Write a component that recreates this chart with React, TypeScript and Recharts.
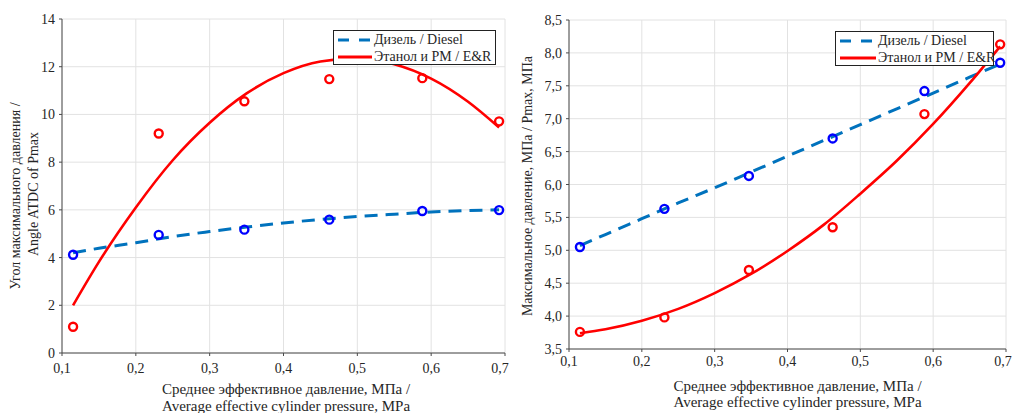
import React from "react";
import { CartesianGrid, ComposedChart, Line, Scatter, XAxis, YAxis } from "recharts";

// measured points (mean effective pressure, MPa)
const loadPoints = [0.115, 0.231, 0.347, 0.462, 0.588, 0.692];
const angleDiesel = [4.12, 4.95, 5.17, 5.59, 5.95, 5.99];
const angleEthanol = [1.1, 9.2, 10.55, 11.48, 11.52, 9.71];
const pmaxDiesel = [5.05, 5.63, 6.13, 6.7, 7.42, 7.85];
const pmaxEthanol = [3.76, 3.98, 4.7, 5.35, 7.07, 8.13];

// trend lines
const trendPoints = [0.115, 0.15, 0.2, 0.25, 0.3, 0.35, 0.4, 0.45, 0.5, 0.55, 0.6, 0.65, 0.692];
const angleDieselTrend = [4.2, 4.39, 4.62, 4.88, 5.09, 5.28, 5.45, 5.6, 5.72, 5.82, 5.91, 5.97, 6.0];
const angleEthanolTrend = [2.0, 3.82, 6.1, 8.08, 9.65, 10.88, 11.73, 12.22, 12.35, 12.1, 11.5, 10.53, 9.45];
const pmaxDieselTrend = [5.07, 5.24, 5.48, 5.72, 5.95, 6.19, 6.43, 6.67, 6.91, 7.15, 7.39, 7.63, 7.83];
const pmaxEthanolTrend = [3.74, 3.8, 3.93, 4.11, 4.35, 4.64, 4.99, 5.39, 5.86, 6.36, 6.92, 7.54, 8.1];

const xTicks = [0.1, 0.2, 0.3, 0.4, 0.5, 0.6, 0.7];
const angleTicks = [0, 2, 4, 6, 8, 10, 12, 14];
const pmaxTicks = [3.5, 4, 4.5, 5, 5.5, 6, 6.5, 7, 7.5, 8, 8.5];

const legendLabels = ["Дизель / Diesel", "Этанол и РМ / E&R"];
const xTitle = ["Среднее эффективное давление, МПа /", "Average effective cylinder pressure, MPa"];

const FONT = "Liberation Serif";
const TEXT = "#262626";
const AXIS = "#4a4a4a";
const GRID = "#e2e2e2";
const DIESEL_LINE = "#0072BD";
const DIESEL_MARK = "#0000FF";
const ETHANOL = "#FF0000";

const toRows = (xs: number[], ys: number[]) => xs.map((x, i) => ({ x, y: ys[i] }));
const comma = (d: number) => (v: number) => v.toFixed(d).replace(".", ",");

const ring = (color: string) => (props: any) =>
  <circle cx={props.cx} cy={props.cy} r={4} fill="none" stroke={color} strokeWidth={2.4} />;

// tick labels drawn by hand so the serif font sticks
const xTick = (fmt: (v: number) => string, gap: number) => (props: any) => (
  <text x={props.x} y={props.y + gap} textAnchor="middle" fill={TEXT} fontSize={14} fontFamily={FONT}>
    {fmt(props.payload.value)}
  </text>
);
const yTick = (fmt: (v: number) => string) => (props: any) => (
  <text x={props.x - 4} y={props.y + 5} textAnchor="end" fill={TEXT} fontSize={14} fontFamily={FONT}>
    {fmt(props.payload.value)}
  </text>
);

const LegendBox: React.FC<{ left: number; top: number; width: number; sample: number }> = ({ left, top, width, sample }) => (
  <div
    style={{
      position: "absolute", left, top, width, height: 35, boxSizing: "border-box",
      border: "1px solid #222", background: "#fff", fontFamily: FONT, fontSize: 14, color: TEXT,
    }}
  >
    {legendLabels.map((label, i) => (
      <div key={label} style={{ position: "absolute", left: 0, top: i === 0 ? 0 : 17, height: 17, display: "flex", alignItems: "center", whiteSpace: "nowrap" }}>
        <svg width={sample + 10} height={17} style={{ display: "block" }}>
          <line
            x1={4} x2={4 + sample} y1={9} y2={9}
            stroke={i === 0 ? DIESEL_LINE : ETHANOL} strokeWidth={3}
            strokeDasharray={i === 0 ? "11 10" : undefined}
          />
        </svg>
        <span style={{ marginLeft: -4, fontFamily: FONT }}>{label}</span>
      </div>
    ))}
  </div>
);

type PanelProps = {
  width: number;
  top: number;
  right: number;
  yWidth: number;
  xHeight: number;
  domain: [number, number];
  yTicks: number[];
  yFmt: (v: number) => string;
  xGap: number;
  dieselPts: number[];
  ethanolPts: number[];
  dieselTrend: number[];
  ethanolTrend: number[];
  yLabel: React.ReactNode;
  titleDx: number;
  titleDy: [number, number];
};

const Panel: React.FC<PanelProps> = (p) => (
  <ComposedChart width={p.width} height={413} margin={{ top: p.top, right: p.right, bottom: 0, left: 0 }}>
    <CartesianGrid stroke={GRID} strokeWidth={1} />
    <XAxis
      type="number" dataKey="x" domain={[0.1, 0.7]} ticks={xTicks}
      height={p.xHeight} allowDataOverflow
      stroke={AXIS} tickSize={3} tickMargin={0}
      tick={xTick(comma(1), p.xGap)}
      label={({ viewBox }: any) => {
        const cx = viewBox.x + viewBox.width / 2 + p.titleDx;
        return (
          <text textAnchor="middle" fill={TEXT} fontSize={15} fontFamily={FONT}>
            <tspan x={cx} y={viewBox.y + p.titleDy[0]}>{xTitle[0]}</tspan>
            <tspan x={cx} y={viewBox.y + p.titleDy[1]}>{xTitle[1]}</tspan>
          </text>
        );
      }}
    />
    <YAxis
      type="number" dataKey="y" domain={p.domain} ticks={p.yTicks}
      width={p.yWidth} allowDataOverflow
      stroke={AXIS} tickSize={3} tickMargin={0}
      tick={yTick(p.yFmt)}
      label={() => p.yLabel}
    />
    <Line data={toRows(trendPoints, p.dieselTrend)} dataKey="y" type="monotone" stroke={DIESEL_LINE} strokeWidth={3}
      strokeDasharray="13 8" dot={false} activeDot={false} isAnimationActive={false} />
    <Line data={toRows(trendPoints, p.ethanolTrend)} dataKey="y" type="monotone" stroke={ETHANOL} strokeWidth={2.6}
      dot={false} activeDot={false} isAnimationActive={false} />
    <Scatter data={toRows(loadPoints, p.dieselPts)} dataKey="y" shape={ring(DIESEL_MARK)} isAnimationActive={false} />
    <Scatter data={toRows(loadPoints, p.ethanolPts)} dataKey="y" shape={ring(ETHANOL)} isAnimationActive={false} />
  </ComposedChart>
);

export default function App() {
  return (
    <div style={{ position: "absolute", left: 0, top: 0, width: 1013, height: 413, background: "#fff", overflow: "hidden", fontFamily: FONT }}>
      <div style={{ position: "absolute", left: 0, top: 0 }}>
        <Panel
          width={510} top={19} right={5} yWidth={62} xHeight={60}
          domain={[0, 14]} yTicks={angleTicks} yFmt={comma(0)} xGap={17}
          dieselPts={angleDiesel} ethanolPts={angleEthanol}
          dieselTrend={angleDieselTrend} ethanolTrend={angleEthanolTrend}
          titleDx={2.5} titleDy={[41, 58]}
          yLabel={
            <g>
              <text x={20} y={196} transform="rotate(-90 20 196)" textAnchor="middle" fill={TEXT} fontSize={14} fontFamily={FONT}>
                Угол максимального давления /
              </text>
              <text x={38} y={194} transform="rotate(-90 38 194)" textAnchor="middle" fill={TEXT} fontSize={14} fontFamily={FONT}>
                Angle ATDC of Pmax
              </text>
            </g>
          }
        />
        <LegendBox left={333} top={30} width={163} sample={34} />
      </div>
      <div style={{ position: "absolute", left: 508, top: 0 }}>
        <Panel
          width={505} top={20} right={7} yWidth={61} xHeight={64}
          domain={[3.5, 8.5]} yTicks={pmaxTicks} yFmt={comma(1)} xGap={14}
          dieselPts={pmaxDiesel} ethanolPts={pmaxEthanol}
          dieselTrend={pmaxDieselTrend} ethanolTrend={pmaxEthanolTrend}
          titleDx={10} titleDy={[42, 58]}
          yLabel={
            <text x={24} y={186} transform="rotate(-90 24 186)" textAnchor="middle" fill={TEXT} fontSize={14} fontFamily={FONT}>
              Максимальное давление, МПа / Pmax, МПа
            </text>
          }
        />
        <LegendBox left={327} top={31} width={159} sample={36} />
      </div>
    </div>
  );
}
